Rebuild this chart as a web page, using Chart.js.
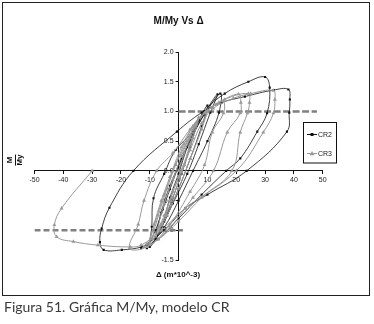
<!DOCTYPE html>
<html><head><meta charset="utf-8">
<script src="https://cdn.jsdelivr.net/npm/chart.js@4/dist/chart.umd.min.js"></script>
<style>
html,body{margin:0;padding:0;background:#fff;width:374px;height:324px;overflow:hidden}
#frame{position:absolute;left:2px;top:2px;width:366px;height:292px;border:1.5px solid #222;pointer-events:none}
#cv{position:absolute;left:0;top:0}
#ylab{position:absolute;left:15px;top:160px;transform:translate(-50%,-50%) rotate(-90deg);font:bold 8px "Liberation Sans",Arial,sans-serif;color:#111;text-align:center;line-height:8px}
#ylab .n{border-bottom:1px solid #111;padding:0 1px 1px}
#xlab{position:absolute;left:178px;top:274px;transform:translate(-50%,-50%);font:bold 8px "Liberation Sans",Arial,sans-serif;color:#111;white-space:nowrap}
#cap{position:absolute;left:4px;top:298px;font:14px Lato,sans-serif;color:#3a3a3a;white-space:nowrap}
</style></head>
<body>
<canvas id="cv" width="374" height="324"></canvas>
<div id="frame"></div>
<div id="ylab"><div class="n">M</div><div>My</div></div>
<div id="xlab">Δ (m*10^-3)</div>
<div id="cap">Figura 51. Gráfica M/My, modelo CR</div>
<script>
// Axis ticks
const xTicks = [-50,-40,-30,-20,-10,0,10,20,30,40,50];
const yTicks = [-1.5,-1.0,-0.5,0,0.5,1.0,1.5,2.0];

// Series CR2 (Δ, M/My)
const cr2X = [0,2,4,6,4,1,-2,-5,-3,0,3,7,10,8,4,0,-4,-8,-6,-3,1,5,
  9,13.5, 11,7,3,-2,-6,-10, -9.3,-8.7,-5,-1,5.1,9,14.5, 14,10,5,0,-5,-11,
  -8,-5.5,-3,1,5,9, 16,24.2,30,31.6,30.7,27.3,21.4,16.5,8,0,-7,-12.8,-19.7,-26,-27.3,-26.7,-24,-15.7,-0.6,8,
  15,23,33,38.1,38.6,38.4,37.6,23.6,10,2.3,-5,-13];
const cr2Y = [0,0.3,0.55,0.8,0.4,-0.05,-0.45,-0.85,-0.45,-0.05,0.4,0.85,1.1,0.75,0.2,-0.3,-0.75,-1.15,-0.7,-0.25,0.2,0.6,
  0.97,1.29, 0.98,0.45,-0.05,-0.55,-0.95,-1.28, -0.94,-0.46,-0.05,0.35,0.66,0.95,1.3, 0.98,0.5,0,-0.5,-0.95,-1.3,
  -1.0,-0.65,-0.31,0.2,0.6,1.0, 1.3,1.5,1.58,1.4,0.97,0.66,0.21,0,-0.4,-0.8,-1.15,-1.28,-1.33,-1.33,-1.2,-0.97,-0.62,0,0.66,0.98,
  1.15,1.25,1.36,1.37,1.2,0.98,0.66,0,-0.4,-0.63,-1.0,-1.3];

// Series CR3 (Δ, M/My)
const cr3X = [0,2,4,6,4,1,-2,-5,-7,-5,-2,1,4,7,5,2,-2,-6,-9,-7,-4,-1,3,6,
  9,10, 8,4,0,-4,-8,-10, -8,-5,-2,2,5,9.5,13,15.5, 15.6,11.7,9,4,-3,-10,
  -8.5,-6,-3,1,5,9,14,20.8,21.6,21.4,16.9,12.1,5,-3,-11,
  -17,-14,-12,-7.6,-2,4,9,16,24.2,24.6,23.9,21.4,18.5,8,0,-7,-12,
  -6,-3,0,4,8,12,19,25,32.9,33.4,32.9,29.4,20,2.3,-6,-13,-16.8,-28,-36.5,-42.3,-43.1,-40.6,-30];
const cr3Y = [0,0.3,0.55,0.78,0.45,0,-0.35,-0.75,-0.95,-0.55,-0.15,0.25,0.6,0.9,0.55,0.1,-0.45,-0.9,-1.15,-0.75,-0.3,0.1,0.5,0.8,
  0.97,1.02, 0.7,0.2,-0.3,-0.75,-1.1,-1.22, -0.85,-0.4,0,0.45,0.75,1.0,1.12,1.18, 0.97,0.65,0.1,-0.35,-0.9,-1.25,
  -0.9,-0.5,-0.1,0.4,0.75,0.97,1.15,1.29,1.15,0.97,0.65,0,-0.45,-0.95,-1.28,
  -1.3,-0.9,-0.5,0,0.3,0.7,0.97,1.2,1.3,1.15,0.97,0.65,0,-0.45,-0.85,-1.15,-1.28,
  -0.9,-0.5,-0.1,0.35,0.8,1.05,1.22,1.3,1.35,1.2,0.97,0.65,0,-0.63,-1.0,-1.25,-1.28,-1.25,-1.19,-1.11,-0.91,-0.63,0];

// Reference (yield) lines
const yieldUpX = [0,48], yieldUpY = [1,1];
const yieldLowX = [-50,1.5], yieldLowY = [-1,-1];

const pts = (xs, ys) => xs.map((x,i)=>({x, y: ys[i]}));

// put the y axis through x = 0 (keep room on the left for its tick labels)
const crossAxes = {
  id:'crossAxes',
  afterLayout(chart){
    const px = chart.scales.x.getPixelForValue(0);
    chart.scales.y.right = px; chart.scales.y.left = px - 40; chart.scales.y.width = 40;
  }
};

const legendBox = {
  id:'legendBox',
  afterDraw(chart){
    const c = chart.ctx;
    c.save();
    c.strokeStyle = '#111'; c.lineWidth = 1;
    c.strokeRect(303.5,122.5,33,40.5);
    const items = [
      {ds: chart.data.datasets[1], y:134.5, label:'CR2'},
      {ds: chart.data.datasets[0], y:153.5, label:'CR3'}
    ];
    c.font = '7px "Liberation Sans", Arial, sans-serif';
    c.textBaseline = 'middle';
    for (const it of items){
      c.strokeStyle = it.ds.borderColor; c.lineWidth = 1;
      c.beginPath(); c.moveTo(307,it.y); c.lineTo(317,it.y); c.stroke();
      c.fillStyle = it.ds.pointBackgroundColor;
      if (it.ds.pointStyle === 'rect'){ c.fillRect(310.5,it.y-1.5,3,3); }
      else { c.beginPath(); c.moveTo(312,it.y-2.5); c.lineTo(314.5,it.y+1.8); c.lineTo(309.5,it.y+1.8); c.closePath(); c.fill(); }
      c.fillStyle = '#222';
      c.fillText(it.label, 318, it.y+0.5);
    }
    c.restore();
  }
};

new Chart(document.getElementById('cv'), {
  type: 'scatter',
  data: { datasets: [
    { label:'CR3', data: pts(cr3X,cr3Y), showLine:true, tension:0.4, borderColor:'#999', borderWidth:1,
      pointStyle:'triangle', pointRadius:2.3, pointBackgroundColor:'#999', pointBorderColor:'#999', pointBorderWidth:0, order:1 },
    { label:'CR2', data: pts(cr2X,cr2Y), showLine:true, tension:0.4, borderColor:'#111', borderWidth:0.8,
      pointStyle:'rect', pointRadius:1.5, pointBackgroundColor:'#111', pointBorderColor:'#111', pointBorderWidth:0, order:2 },
    { label:'y+', data: pts(yieldUpX,yieldUpY), showLine:true, borderColor:'#808080', borderWidth:2.5, borderDash:[7,2.5], pointRadius:0, order:3 },
    { label:'y-', data: pts(yieldLowX,yieldLowY), showLine:true, borderColor:'#808080', borderWidth:2.5, borderDash:[6,3], pointRadius:0, order:3 }
  ]},
  options: {
    responsive:false, animation:false, devicePixelRatio:1,
    layout:{ padding:{ left:34.5, right:51.3, top:0, bottom:64 } },
    plugins:{
      legend:{ display:false }, tooltip:{ enabled:false },
      title:{ display:true, text:'M/My Vs Δ', color:'#111', font:{ family:'"Liberation Sans", Arial, sans-serif', size:10, weight:'bold' }, padding:{ top:15, bottom:25 } }
    },
    scales:{
      x:{ type:'linear', position:{ y:0 }, min:xTicks[0], max:xTicks[xTicks.length-1],
        afterFit(s){ s.height = 0; },
        afterBuildTicks(s){ s.ticks = xTicks.map(v=>({value:v})); },
        grid:{ drawOnChartArea:false, drawTicks:true, tickLength:3, color:'#111' },
        border:{ display:true, color:'#111', width:1 },
        ticks:{ color:'#222', font:{ family:'"Liberation Sans", Arial, sans-serif', size:7 }, padding:2, maxRotation:0, autoSkip:false } },
      y:{ type:'linear', position:'left', min:yTicks[0], max:yTicks[yTicks.length-1],
        afterFit(s){ s.width = 0; },
        afterBuildTicks(s){ s.ticks = yTicks.map(v=>({value:v})); },
        grid:{ drawOnChartArea:false, drawTicks:true, tickLength:3, color:'#111' },
        border:{ display:true, color:'#111', width:1 },
        ticks:{ color:'#222', font:{ family:'"Liberation Sans", Arial, sans-serif', size:7 }, padding:2, autoSkip:false,
          callback:(v)=>Number(v).toFixed(1) } }
    }
  },
  plugins:[crossAxes, legendBox]
});
</script>
</body></html>
